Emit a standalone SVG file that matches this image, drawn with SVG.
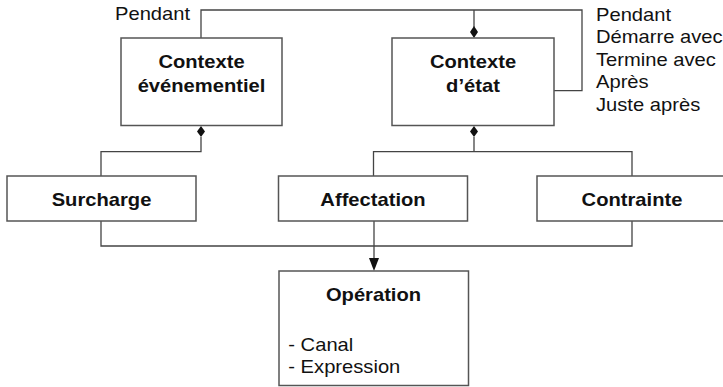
<svg xmlns="http://www.w3.org/2000/svg" width="723" height="387" viewBox="0 0 723 387">
<style>
.box{fill:#fff;stroke:#555;stroke-width:1.5}
.ln{fill:none;stroke:#444;stroke-width:1.3}
.t{font-family:"Liberation Sans",Arial,sans-serif;font-size:18px;fill:#111}
.b{font-weight:bold;text-anchor:middle}
</style>
<rect width="723" height="387" fill="#fff"/>
<g id="connectors">
<path class="ln" d="M201 38 V10 H582 V90.7 H554"/>
<path class="ln" d="M474 10 V27"/>
<path d="M474 26 L478 32 L474 38 L470 32 Z" fill="#111"/>
<path class="ln" d="M201 137 V151.7 H101 V176"/>
<path d="M201 126 L205 131.5 L201 137 L197 131.5 Z" fill="#111"/>
<path class="ln" d="M474 137 V151.7"/>
<path d="M474 126 L478 131.5 L474 137 L470 131.5 Z" fill="#111"/>
<path class="ln" d="M373.5 176 V151.7 H632 V176"/>
<path class="ln" d="M101 221 V246 H632 V221"/>
<path class="ln" d="M374 221 V260"/>
<path d="M369 258 L379 258 L374 271 Z" fill="#111"/>
</g>
<g id="label-pendant-left"><text class="t" transform="translate(115,20) scale(1.12,1)">Pendant</text></g>
<g id="label-relations">
<text class="t" transform="translate(596,20.5) scale(1.12,1)">Pendant</text>
<text class="t" transform="translate(596,43) scale(1.12,1)">Démarre avec</text>
<text class="t" transform="translate(596,65.5) scale(1.12,1)">Termine avec</text>
<text class="t" transform="translate(596,88) scale(1.12,1)">Après</text>
<text class="t" transform="translate(596,110.5) scale(1.12,1)">Juste après</text>
</g>
<g id="contexte-evenementiel">
<rect class="box" x="121" y="38" width="161" height="87.5"/>
<text class="t b" transform="translate(201.5,67.5) scale(1.12,1)">Contexte</text>
<text class="t b" transform="translate(201.5,91.5) scale(1.12,1)">événementiel</text>
</g>
<g id="contexte-etat">
<rect class="box" x="392" y="38" width="162" height="87.5"/>
<text class="t b" transform="translate(473,67.5) scale(1.12,1)">Contexte</text>
<text class="t b" transform="translate(473,91.5) scale(1.12,1)">d’état</text>
</g>
<g id="surcharge">
<rect class="box" x="7" y="176" width="189" height="45"/>
<text class="t b" transform="translate(101.5,206) scale(1.12,1)">Surcharge</text>
</g>
<g id="affectation">
<rect class="box" x="278.5" y="176" width="189" height="45"/>
<text class="t b" transform="translate(373,206) scale(1.12,1)">Affectation</text>
</g>
<g id="contrainte">
<rect class="box" x="537" y="176" width="190" height="45"/>
<text class="t b" transform="translate(632,206) scale(1.12,1)">Contrainte</text>
</g>
<g id="operation">
<rect class="box" x="279" y="271" width="189.5" height="114.5"/>
<text class="t b" transform="translate(373.5,300.7) scale(1.12,1)">Opération</text>
<text class="t" transform="translate(288.3,350.7) scale(1.12,1)">- Canal</text>
<text class="t" transform="translate(288.3,373.3) scale(1.12,1)">- Expression</text>
</g>
</svg>
